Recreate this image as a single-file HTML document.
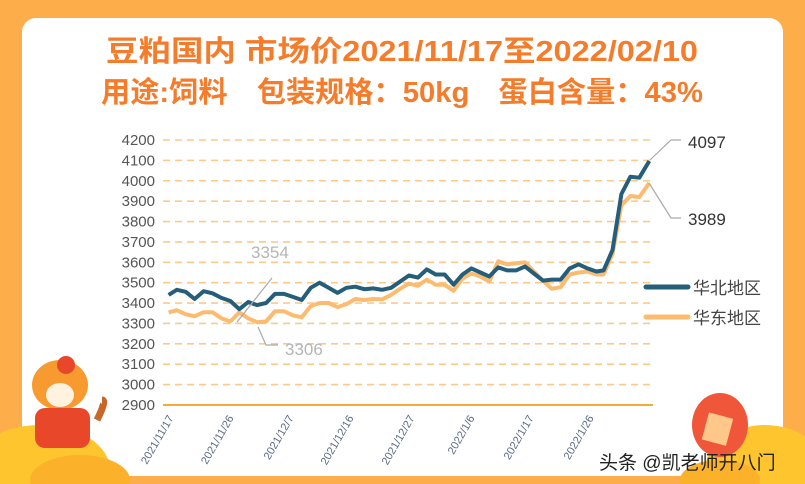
<!DOCTYPE html>
<html><head><meta charset="utf-8">
<style>
html,body{margin:0;padding:0;}
body{width:805px;height:484px;overflow:hidden;background:#fdae4a;font-family:"Liberation Sans","Noto Sans CJK SC",sans-serif;}
svg{display:block;}
</style></head>
<body>
<svg id="s" width="805" height="484" xmlns="http://www.w3.org/2000/svg" font-family="Liberation Sans, Noto Sans CJK SC, sans-serif">
<rect x="0" y="0" width="805" height="484" fill="#fdae4a"/>
<rect x="22" y="18" width="761" height="458" rx="14" fill="#ffffff"/>
<text x="402" y="61" text-anchor="middle" font-size="29" font-weight="bold" fill="#f47c2a" textLength="592" lengthAdjust="spacingAndGlyphs">豆粕国内 市场价2021/11/17至2022/02/10</text>
<text x="402" y="102" text-anchor="middle" font-size="29" font-weight="bold" fill="#f47c2a" textLength="602" lengthAdjust="spacingAndGlyphs">用途:饲料　包装规格：50kg　蛋白含量：43%</text>
<g id="grid"></g>
<line x1="163" y1="405" x2="653" y2="405" stroke="#f5a93b" stroke-width="2"/>
<g id="xl" font-size="11" fill="#5a6a85"></g>
<polyline id="or" fill="none" stroke="#fdbb6f" stroke-width="4" stroke-linejoin="round"/>
<polyline id="bl" fill="none" stroke="#255e7a" stroke-width="4" stroke-linejoin="round"/>
<polyline points="650,160 671,140 681,140" fill="none" stroke="#aaa" stroke-width="1.2"/>
<polyline points="649,183 671,218 681,218" fill="none" stroke="#aaa" stroke-width="1.2"/>
<text x="688" y="148" font-size="17" fill="#333">4097</text>
<text x="688" y="225" font-size="17" fill="#333">3989</text>
<polyline points="272,278 237,322" fill="none" stroke="#aaa" stroke-width="1.2"/>
<polyline points="258,327 266,345 278,345" fill="none" stroke="#aaa" stroke-width="1.2"/>
<text x="251" y="258" font-size="17" fill="#b5b5b5">3354</text>
<text x="285" y="355" font-size="17" fill="#b5b5b5">3306</text>
<line x1="646" y1="287" x2="688" y2="287" stroke="#255e7a" stroke-width="5" stroke-linecap="round"/>
<line x1="646" y1="317" x2="688" y2="317" stroke="#fdbb6f" stroke-width="5" stroke-linecap="round"/>
<text x="693" y="294" font-size="17" fill="#444">华北地区</text>
<text x="693" y="324" font-size="17" fill="#444">华东地区</text>
<ellipse cx="40" cy="470" rx="70" ry="45" fill="#ffc52e"/>
<ellipse cx="80" cy="480" rx="50" ry="25" fill="#fbb22a"/>
<ellipse cx="765" cy="470" rx="60" ry="45" fill="#ffc52e"/>
<ellipse cx="720" cy="480" rx="40" ry="20" fill="#fbb22a"/>
<ellipse cx="720" cy="425" rx="28" ry="32" fill="#f0573a"/>
<rect x="705" y="415" width="25" height="28" fill="#ffc78a" transform="rotate(15 717 429)"/>
<ellipse cx="60" cy="385" rx="28" ry="25" fill="#f79a30"/>
<ellipse cx="60" cy="395" rx="14" ry="12" fill="#fff3e0"/>
<rect x="35" y="408" width="55" height="40" rx="10" fill="#e8472a"/>
<circle cx="66" cy="365" r="9" fill="#e8472a"/>
<path d="M97,420 q10,-20 5,-20" stroke="#c8672a" stroke-width="7" fill="none"/>
<text x="599" y="469" font-size="19" fill="#222">头条 @凯老师开八门</text>
</svg>
<script>
var NS="http://www.w3.org/2000/svg";
function y(v){return 140+(4200-v)*0.2038;}
var g=document.getElementById('grid');
for(var v=3000;v<=4200;v+=100){var l=document.createElementNS(NS,'line');l.setAttribute('x1',163);l.setAttribute('x2',653);l.setAttribute('y1',y(v));l.setAttribute('y2',y(v));l.setAttribute('stroke','#fdc98a');l.setAttribute('stroke-width','1.6');l.setAttribute('stroke-dasharray','7,5');g.appendChild(l);}
for(var v=2900;v<=4200;v+=100){var t=document.createElementNS(NS,'text');t.setAttribute('x',155);t.setAttribute('y',y(v)+5);t.setAttribute('text-anchor','end');t.setAttribute('font-size','15');t.setAttribute('fill','#555');t.textContent=v;g.appendChild(t);}
var B=[[192,3440],[215,3465],[240,3455],[265,3420],[290,3458],[315,3448],[340,3425],[365,3410],[390,3370],[415,3405],[440,3390],[465,3400],[490,3445],[515,3445],[540,3430],[565,3415],[590,3475],[615,3500],[640,3475],[665,3450],[690,3475],[715,3480],[740,3468],[765,3472],[790,3465],[815,3475],[840,3505],[865,3535],[890,3525],[915,3565],[940,3540],[965,3540],[990,3490],[1015,3540],[1040,3570],[1065,3550],[1090,3530],[1115,3575],[1140,3560],[1165,3560],[1190,3580],[1215,3545],[1240,3510],[1265,3515],[1290,3515],[1315,3570],[1340,3590],[1365,3570],[1390,3555],[1410,3560],[1435,3660],[1460,3935],[1485,4020],[1510,4015],[1538,4097]];
var O=[[192,3354],[215,3365],[240,3345],[265,3335],[290,3355],[315,3355],[340,3325],[365,3310],[390,3354],[415,3325],[440,3306],[465,3310],[490,3360],[515,3360],[540,3340],[565,3330],[590,3385],[615,3400],[640,3400],[665,3380],[690,3395],[715,3420],[740,3415],[765,3420],[790,3418],[815,3440],[840,3470],[865,3495],[890,3485],[915,3515],[940,3490],[965,3490],[990,3460],[1015,3520],[1040,3545],[1065,3530],[1090,3505],[1115,3605],[1140,3590],[1165,3595],[1190,3600],[1215,3555],[1240,3510],[1265,3470],[1290,3478],[1315,3540],[1340,3550],[1365,3555],[1390,3540],[1410,3540],[1435,3640],[1460,3880],[1485,3925],[1510,3920],[1538,3989]];
function pts(a){return a.map(function(p){return (100+p[0]/2.8).toFixed(1)+','+y(p[1]).toFixed(1);}).join(' ');}
document.getElementById('bl').setAttribute('points',pts(B));
document.getElementById('or').setAttribute('points',pts(O));
var labs=['2021/11/17','2021/11/26','2021/12/7','2021/12/16','2021/12/27','2022/1/6','2022/1/17','2022/1/26'];
var xs=[174,234,294,354,415,475,534,594];
var xl=document.getElementById('xl');
labs.forEach(function(s,i){var t=document.createElementNS(NS,'text');t.setAttribute('x',xs[i]);t.setAttribute('y',418);t.setAttribute('text-anchor','end');t.setAttribute('transform','rotate(-60 '+xs[i]+' 418)');t.textContent=s;xl.appendChild(t);});
</script>
</body></html>
